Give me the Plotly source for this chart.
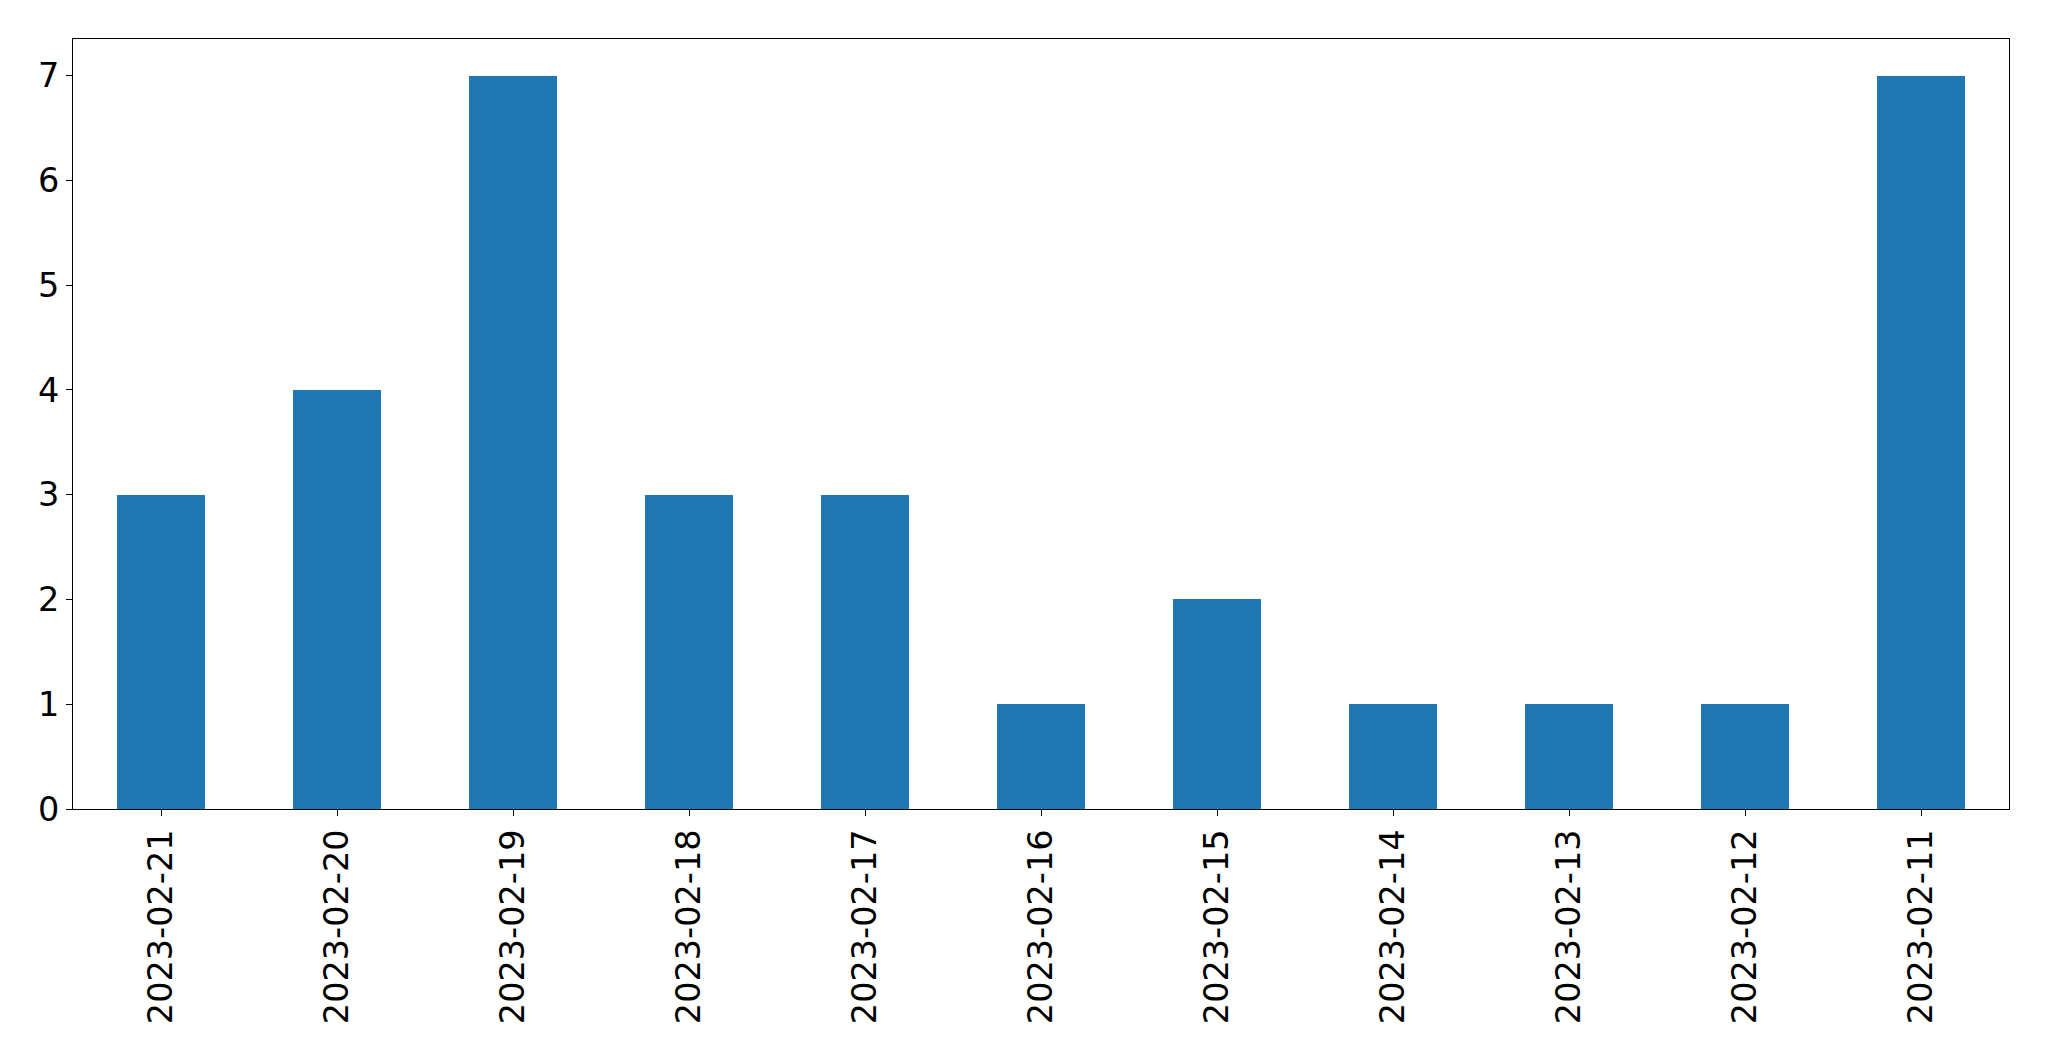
import plotly.graph_objects as go

dates = ["2023-02-21", "2023-02-20", "2023-02-19", "2023-02-18", "2023-02-17",
         "2023-02-16", "2023-02-15", "2023-02-14", "2023-02-13", "2023-02-12", "2023-02-11"]
counts = [3, 4, 7, 3, 3, 1, 2, 1, 1, 1, 7]
y_ticks = [0, 1, 2, 3, 4, 5, 6, 7]

fig = go.Figure(go.Bar(x=dates, y=counts, width=0.5, marker=dict(color="#1f77b4", line=dict(width=0))))

# page body has an 8px margin; size the figure to fit the viewport exactly
OFF = 8
W, H = 2049 - 2 * OFF, 1061 - 2 * OFF
left, right, top, bottom = 72.7 - OFF, 2009.3 - OFF, 39.3 - OFF, 809 - OFF
fig.update_layout(
    width=W, height=H,
    margin=dict(l=left, r=W - right, t=top, b=H - bottom, pad=0),
    plot_bgcolor="white", paper_bgcolor="white",
    font=dict(family="DejaVu Sans", size=33.5, color="black"),
    showlegend=False,
    bargap=0,
)
fig.update_xaxes(type="category", range=[-0.5, 10.5], tickangle=-90, automargin=False,
                 showline=True, linecolor="black", linewidth=1.1, mirror=True,
                 ticks="outside", ticklen=6, tickwidth=1.1, tickcolor="black",
                 showgrid=False, zeroline=False)
fig.update_yaxes(range=[0, 7.35], tickvals=y_ticks, automargin=False,
                 showline=True, linecolor="black", linewidth=1.1, mirror=True,
                 ticks="outside", ticklen=6, tickwidth=1.1, tickcolor="black",
                 showgrid=False, zeroline=False)

fig.write_html("out.html")
